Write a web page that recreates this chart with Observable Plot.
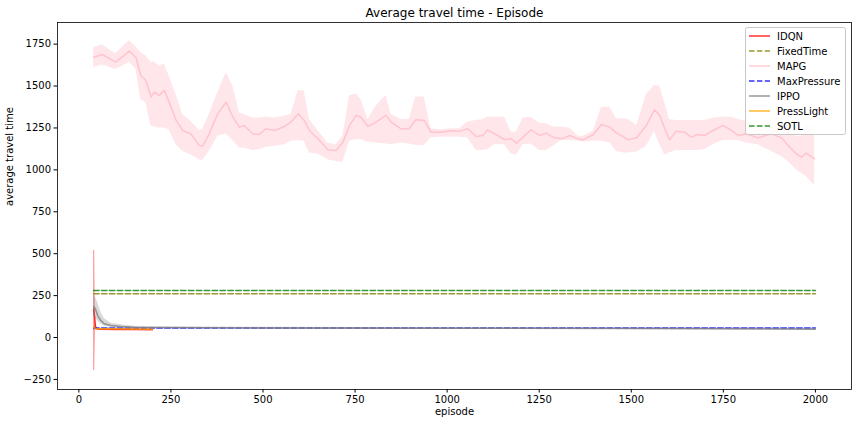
<!DOCTYPE html>
<html>
<head>
<meta charset="utf-8">
<script src="https://cdn.jsdelivr.net/npm/d3@7"></script>
<script src="https://cdn.jsdelivr.net/npm/@observablehq/plot@0.6"></script>
<style>
  html, body { margin: 0; padding: 0; background: white; }
  #chart svg { display: block; }
</style>
</head>
<body>
<div id="chart"></div>
<script>
// ---------- data ----------
const titleText = "Average travel time - Episode";
const xLabel = "episode";
const yLabel = "average travel time";
const xTicks = [0, 250, 500, 750, 1000, 1250, 1500, 1750, 2000];
const yTicks = [-250, 0, 250, 500, 750, 1000, 1250, 1500, 1750];
const seriesNames = ["IDQN", "FixedTime", "MAPG", "MaxPressure", "IPPO", "PressLight", "SOTL"];

const mapgEpisodes = [40,64,100,137,155,168,182,196,205,218,232,245,264,282,304,327,336,354,377,400,418,436,449,472,490,508,531,558,576,596,612,626,649,676,698,717,735,753,766,785,807,834,848,875,897,915,938,956,983,1010,1034,1056,1079,1097,1110,1129,1156,1174,1188,1206,1228,1251,1269,1287,1310,1333,1356,1369,1397,1419,1442,1460,1478,1492,1515,1541,1563,1577,1591,1604,1622,1645,1663,1681,1699,1722,1749,1772,1790,1813,1844,1880,1908,1926,1948,1962,1975,1998];
const mapgMean = [1672,1688,1643,1708,1672,1563,1533,1434,1464,1444,1474,1404,1295,1235,1215,1146,1140,1215,1335,1404,1315,1255,1265,1215,1211,1245,1235,1259,1285,1334,1295,1235,1185,1120,1116,1165,1265,1325,1314,1259,1285,1325,1285,1245,1245,1299,1295,1225,1225,1233,1231,1245,1199,1205,1239,1215,1181,1185,1159,1195,1239,1205,1219,1195,1185,1205,1185,1179,1211,1271,1255,1219,1199,1179,1193,1265,1358,1325,1245,1179,1231,1225,1195,1211,1205,1235,1265,1235,1205,1215,1191,1215,1191,1146,1096,1076,1100,1066];
const mapgLow = [1610,1625,1598,1640,1600,1420,1400,1260,1255,1250,1250,1240,1150,1110,1090,1060,1055,1110,1200,1215,1175,1130,1130,1115,1120,1135,1140,1150,1170,1175,1170,1100,1095,1060,1050,1046,1170,1180,1180,1165,1160,1155,1150,1160,1155,1145,1145,1190,1195,1195,1195,1190,1116,1116,1120,1150,1150,1095,1085,1150,1155,1116,1116,1140,1175,1175,1170,1165,1170,1170,1160,1110,1100,1100,1106,1140,1230,1150,1088,1100,1116,1116,1116,1116,1120,1150,1175,1175,1175,1160,1150,1110,1080,1050,1000,980,960,907];
const mapgHigh = [1730,1745,1693,1770,1735,1700,1680,1640,1645,1620,1630,1560,1450,1330,1290,1235,1240,1330,1460,1580,1500,1340,1330,1310,1310,1315,1310,1320,1330,1474,1470,1300,1235,1160,1150,1200,1440,1454,1420,1300,1380,1444,1330,1300,1300,1434,1434,1245,1240,1245,1245,1285,1295,1300,1314,1314,1314,1225,1225,1310,1314,1280,1275,1255,1255,1250,1200,1200,1230,1374,1374,1305,1305,1300,1265,1450,1503,1500,1400,1300,1295,1295,1295,1295,1295,1310,1314,1314,1300,1290,1270,1280,1270,1250,1200,1200,1270,1255];

const idqnEpisodes = [40, 43, 45, 50, 60, 100, 150, 200];
const idqnMean = [168, 120, 62, 51, 49, 48, 48, 47];
const idqnLow  = [-197, -197, 40, 47, 46, 45, 45, 44];
const idqnHigh = [519, 519, 90, 55, 52, 51, 51, 50];

const pressLightEpisodes = [40, 45, 50, 100, 150, 200];
const pressLightMean = [64, 55, 53, 52, 51, 50];

const ippoEpisodes = [40, 45, 51, 60, 69, 87, 114, 150, 200, 500, 1000, 1500, 2000];
const ippoMean = [185, 170, 131, 101, 82, 72, 66, 62, 60, 57, 55, 54, 50];
const ippoLow  = [125, 115, 100, 80, 68, 62, 58, 56, 55, 53, 51, 50, 46];
const ippoHigh = [261, 240, 211, 151, 113, 85, 76, 68, 65, 61, 59, 58, 54];

const constEpisodes = [40, 2000];
const fixedTimeValue = 261;
const maxPressureValue = 57;
const sotlValue = 280;

// ---------- build rows ----------
const rows = (eps, mean, lo, hi) => eps.map((e, i) => ({ep: e, y: mean[i], lo: lo ? lo[i] : null, hi: hi ? hi[i] : null}));
const mapg = rows(mapgEpisodes, mapgMean, mapgLow, mapgHigh);
const idqn = rows(idqnEpisodes, idqnMean, idqnLow, idqnHigh);
const press = rows(pressLightEpisodes, pressLightMean);
const ippo = rows(ippoEpisodes, ippoMean, ippoLow, ippoHigh);
const flat = v => constEpisodes.map(e => ({ep: e, y: v}));

const colors = {
  IDQN: "red", FixedTime: "olive", MAPG: "pink", MaxPressure: "blue",
  IPPO: "gray", PressLight: "orange", SOTL: "green"
};
const dashed = {FixedTime: true, MaxPressure: true, SOTL: true};
const dash = "5.5,2.4";
const lw = 1.5;
const lineOpacity = 0.8;

const plot = Plot.plot({
  width: 856,
  height: 424,
  marginLeft: 57,
  marginRight: 5,
  marginTop: 22,
  marginBottom: 35,
  style: {fontFamily: "DejaVu Sans", fontSize: "10px", background: "white", color: "black", overflow: "visible"},
  x: {domain: [-58, 2098], ticks: xTicks, tickSize: 3.5, tickPadding: 3, tickFormat: d => String(d), label: null},
  y: {domain: [-310, 1879], ticks: yTicks, tickSize: 3.5, tickPadding: 3, tickFormat: d => d < 0 ? "\u2212" + Math.abs(d) : String(d), label: null},
  marks: [
    // IDQN
    Plot.areaY(idqn, {x: "ep", y1: "lo", y2: "hi", fill: colors.IDQN, fillOpacity: 0.4}),
    Plot.lineY(idqn, {x: "ep", y: "y", stroke: colors.IDQN, strokeWidth: lw, strokeOpacity: lineOpacity}),
    // FixedTime
    Plot.lineY(flat(fixedTimeValue), {x: "ep", y: "y", stroke: colors.FixedTime, strokeWidth: lw, strokeOpacity: lineOpacity, strokeDasharray: dash}),
    // MAPG
    Plot.areaY(mapg, {x: "ep", y1: "lo", y2: "hi", fill: colors.MAPG, fillOpacity: 0.4}),
    Plot.lineY(mapg, {x: "ep", y: "y", stroke: colors.MAPG, strokeWidth: lw, strokeOpacity: 0.9}),
    // MaxPressure
    Plot.lineY(flat(maxPressureValue), {x: "ep", y: "y", stroke: colors.MaxPressure, strokeWidth: lw, strokeOpacity: lineOpacity, strokeDasharray: dash}),
    // IPPO
    Plot.areaY(ippo, {x: "ep", y1: "lo", y2: "hi", fill: colors.IPPO, fillOpacity: 0.3}),
    Plot.lineY(ippo, {x: "ep", y: "y", stroke: colors.IPPO, strokeWidth: lw, strokeOpacity: lineOpacity}),
    // PressLight
    Plot.lineY(press, {x: "ep", y: "y", stroke: colors.PressLight, strokeWidth: lw, strokeOpacity: lineOpacity}),
    // SOTL
    Plot.lineY(flat(sotlValue), {x: "ep", y: "y", stroke: colors.SOTL, strokeWidth: lw, strokeOpacity: lineOpacity, strokeDasharray: dash}),
    // frame & texts
    Plot.frame({stroke: "black", strokeWidth: 0.8}),
    Plot.text([titleText], {frameAnchor: "top", dy: -14, fontSize: 12, fill: "black"}),
    Plot.text([xLabel], {frameAnchor: "bottom", dy: 25, fontSize: 10, fill: "black"}),
    Plot.text([yLabel], {frameAnchor: "left", dx: -48, rotate: -90, fontSize: 10, fill: "black"})
  ]
});

document.getElementById("chart").appendChild(plot);

// ---------- legend (inside the axes, upper right) ----------
const svg = d3.select(plot);
const lg = svg.append("g")
  .attr("font-family", "DejaVu Sans").attr("font-size", 10).attr("text-anchor", "start");
const boxX = 745.5, boxY = 27.5, boxW = 100, boxH = 107;
lg.append("rect").attr("x", boxX).attr("y", boxY).attr("width", boxW).attr("height", boxH)
  .attr("rx", 2).attr("ry", 2)
  .style("fill", "white").style("fill-opacity", 0.85).style("stroke", "#c8c8c8").style("stroke-width", 1);
seriesNames.forEach((name, i) => {
  const cy = 36 + i * 15;
  lg.append("line").attr("x1", 749).attr("x2", 770).attr("y1", cy).attr("y2", cy)
    .style("stroke", colors[name]).style("stroke-width", lw).style("stroke-opacity", lineOpacity)
    .style("stroke-dasharray", dashed[name] ? dash : "none");
  lg.append("text").attr("x", 777).attr("y", cy).attr("dy", "0.35em")
    .style("fill", "black").style("text-anchor", "start").text(name);
});
</script>
</body>
</html>
